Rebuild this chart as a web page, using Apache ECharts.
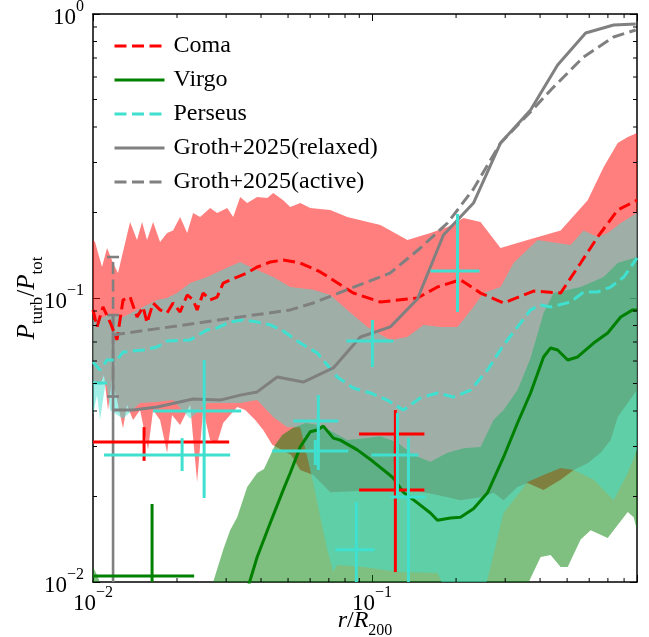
<!DOCTYPE html>
<html><head><meta charset="utf-8">
<script src="https://cdn.jsdelivr.net/npm/echarts@6/dist/echarts.min.js"></script>
<style>html,body{margin:0;padding:0;background:#fff}#c{width:649px;height:637px}</style>
</head><body><div id="c"></div><script>
// ---------------- data (x = r/R200, y = Pturb/Ptot) ----------------
const comaMedian = [[0.0100,0.0908],[0.01034,0.0791],[0.01086,0.0930],[0.01151,0.0823],[0.01219,0.0712],[0.01281,0.0984],[0.01358,0.1008],[0.01438,0.0857],[0.01512,0.0930],[0.01562,0.0817],[0.01642,0.0960],[0.01739,0.0908],[0.01843,0.0886],[0.01936,0.0960],[0.02052,0.0893],[0.02175,0.1025],[0.02285,0.0984],[0.02361,0.0908],[0.02481,0.1041],[0.02629,0.0984],[0.02786,0.1008],[0.02928,0.1129],[0.03286,0.1185],[0.03569,0.1225],[0.03875,0.1286],[0.04316,0.1339],[0.04806,0.136],[0.05531,0.1328],[0.06525,0.1235],[0.08569,0.1041],[0.1071,0.0968],[0.1454,0.100],[0.1715,0.1093],[0.2074,0.116],[0.2447,0.1041],[0.2959,0.0960],[0.3791,0.1058],[0.4739,0.1041],[0.5590,0.1328],[0.6432,0.164],[0.7589,0.204],[0.89,0.221]];
const comaUpper = [[0.0100,0.160],[0.01017,0.1575],[0.01077,0.1286],[0.01123,0.150],[0.01180,0.1328],[0.01229,0.1225],[0.01358,0.1852],[0.01438,0.160],[0.01499,0.1852],[0.01562,0.160],[0.01642,0.1852],[0.01739,0.1575],[0.01843,0.1693],[0.01936,0.173],[0.02052,0.1929],[0.02175,0.1693],[0.02285,0.1992],[0.02420,0.1929],[0.02629,0.2075],[0.02786,0.1992],[0.03026,0.2075],[0.03180,0.1929],[0.03369,0.2268],[0.03569,0.2160],[0.03875,0.2268],[0.04210,0.2250],[0.04424,0.2343],[0.04806,0.221],[0.05090,0.2091],[0.05531,0.2160],[0.06005,0.2075],[0.07085,0.204],[0.08152,0.1929],[0.1071,0.1807],[0.1339,0.160],[0.1619,0.1693],[0.1863,0.1778],[0.2126,0.1912],[0.2447,0.1852],[0.2887,0.150],[0.3608,0.160],[0.4739,0.173],[0.5924,0.221],[0.6760,0.2893],[0.7589,0.3515],[0.8246,0.3690],[0.89,0.381]];
const comaLower = [[0.0100,0.0514],[0.01060,0.0494],[0.01095,0.0536],[0.01132,0.0403],[0.01170,0.0514],[0.01219,0.0437],[0.01281,0.0348],[0.01324,0.0420],[0.01392,0.0372],[0.01475,0.0403],[0.01575,0.0292],[0.01642,0.0403],[0.01739,0.0372],[0.01843,0.0285],[0.01920,0.0387],[0.02052,0.0357],[0.02229,0.0420],[0.02361,0.0225],[0.02481,0.0403],[0.02629,0.0316],[0.02786,0.0309],[0.02928,0.0363],[0.03101,0.0387],[0.03286,0.0413],[0.03510,0.0403],[0.03813,0.0372],[0.04074,0.0343],[0.04388,0.0304],[0.05131,0.0280],[0.05531,0.0248],[0.06156,0.0238],[0.07085,0.0207],[0.1071,0.0211],[0.1407,0.0211],[0.1863,0.0199],[0.2074,0.0194],[0.2447,0.0199],[0.2724,0.0206],[0.2959,0.0194],[0.3321,0.0216],[0.3608,0.0223],[0.4117,0.0211],[0.4739,0.0229],[0.5277,0.0248],[0.5924,0.0262],[0.6596,0.0285],[0.7161,0.0316],[0.7589,0.0381],[0.8246,0.0427],[0.89,0.0474]];

const virgoMedian = [[0.03569,0.00937],[0.03875,0.01225],[0.04316,0.01614],[0.04806,0.0211],[0.05090,0.0242],[0.05531,0.0299],[0.06005,0.0338],[0.06365,0.0343],[0.06688,0.0354],[0.07264,0.0321],[0.07694,0.0316],[0.08858,0.0292],[0.1011,0.0265],[0.1134,0.0242],[0.1192,0.0232],[0.1295,0.0207],[0.1454,0.0190],[0.1619,0.0175],[0.1715,0.0165],[0.1910,0.0168],[0.2074,0.0169],[0.2309,0.0181],[0.2592,0.0206],[0.2959,0.0275],[0.3321,0.0363],[0.3698,0.0463],[0.4117,0.0620],[0.4363,0.0667],[0.4623,0.0656],[0.5024,0.0605],[0.5453,0.0620],[0.6223,0.0694],[0.6988,0.0753],[0.7780,0.0857],[0.8590,0.0908],[0.89,0.0908]];
const virgoUpper = [[0.0100,0.01129],[0.01034,0.01058],[0.01104,0.0090],[0.02523,0.0090],[0.02695,0.0100],[0.02928,0.0130],[0.03101,0.0152],[0.03286,0.0169],[0.03569,0.0216],[0.03875,0.0242],[0.04100,0.0250],[0.04498,0.0304],[0.04765,0.0329],[0.05176,0.0348],[0.05766,0.0363],[0.06418,0.0357],[0.07205,0.0338],[0.08152,0.0316],[0.09307,0.0320],[0.1071,0.0326],[0.1233,0.0310],[0.1407,0.0280],[0.1619,0.0265],[0.1863,0.0285],[0.2126,0.0296],[0.2447,0.0299],[0.2724,0.0372],[0.2959,0.0403],[0.3321,0.0474],[0.3698,0.0615],[0.4117,0.0886],[0.4472,0.1041],[0.5590,0.1093],[0.6760,0.1185],[0.7589,0.1328],[0.89,0.1394]];
const virgoLower = [[0.0100,0.005],[0.35,0.005],[0.3608,0.0098],[0.4018,0.01225],[0.4363,0.01245],[0.4739,0.01129],[0.5024,0.01129],[0.5590,0.0141],[0.6073,0.0152],[0.6988,0.01429],[0.7340,0.0152],[0.8246,0.01764],[0.8661,0.0169],[0.89,0.0152]];

const perseusMedian = [[0.0100,0.0595],[0.01060,0.0558],[0.01123,0.0605],[0.01219,0.0605],[0.01281,0.0645],[0.01512,0.0656],[0.01697,0.0672],[0.01843,0.0706],[0.02229,0.0712],[0.02565,0.0772],[0.02786,0.0785],[0.03101,0.0823],[0.03453,0.0837],[0.03875,0.0823],[0.04316,0.0804],[0.04806,0.0765],[0.05531,0.0694],[0.06365,0.0640],[0.07505,0.0527],[0.08569,0.0482],[0.09860,0.0463],[0.1134,0.0437],[0.1295,0.0403],[0.1490,0.0445],[0.1715,0.0463],[0.1957,0.0448],[0.2253,0.0474],[0.2592,0.0558],[0.2959,0.0683],[0.3321,0.0791],[0.3698,0.0908],[0.4018,0.0945],[0.4363,0.0930],[0.5146,0.0968],[0.5730,0.1050],[0.6432,0.1050],[0.7161,0.1093],[0.7977,0.1185],[0.89,0.1383]];
const perseusUpper = [[0.0100,0.0837],[0.01151,0.0871],[0.01281,0.0857],[0.01392,0.0893],[0.01697,0.0984],[0.01843,0.1],[0.02001,0.1041],[0.02229,0.1129],[0.02565,0.1185],[0.02928,0.126],[0.03180,0.1307],[0.03369,0.1339],[0.03659,0.1286],[0.04424,0.1185],[0.05090,0.1093],[0.06156,0.107],[0.07085,0.1025],[0.08152,0.0908],[0.09618,0.0791],[0.1163,0.0712],[0.1339,0.0729],[0.1528,0.0804],[0.1759,0.0791],[0.2024,0.0791],[0.2309,0.0930],[0.2507,0.1041],[0.2887,0.1093],[0.3214,0.1328],[0.3918,0.160],[0.5146,0.1537],[0.5730,0.173],[0.6432,0.164],[0.6988,0.1693],[0.7780,0.1837],[0.89,0.1992]];
const perseusLower = [[0.0100,0.0387],[0.01034,0.0455],[0.01060,0.0372],[0.01086,0.0437],[0.01113,0.0514],[0.01151,0.0403],[0.01281,0.0376],[0.01475,0.0427],[0.01697,0.0430],[0.01936,0.0437],[0.02229,0.0376],[0.02565,0.0427],[0.02928,0.0427],[0.03369,0.0427],[0.03875,0.0437],[0.04424,0.0381],[0.04967,0.0351],[0.05531,0.0351],[0.05859,0.0275],[0.06156,0.0223],[0.06525,0.0169],[0.06911,0.0130],[0.07264,0.01084],[0.07505,0.01148],[0.09307,0.01129],[0.1233,0.01084],[0.1715,0.01076],[0.1863,0.0090],[0.2447,0.0090],[0.2592,0.0102],[0.2959,0.0175],[0.3608,0.0225],[0.4117,0.0238],[0.4739,0.0252],[0.5277,0.0248],[0.6223,0.0229],[0.7340,0.0194],[0.8246,0.0242],[0.89,0.0292]];

const grothRelaxed = [[0.0118,0.0403],[0.01392,0.0403],[0.01697,0.0413],[0.02285,0.0441],[0.02856,0.0437],[0.03369,0.0455],[0.03875,0.0467],[0.04573,0.0527],[0.05670,0.0506],[0.07264,0.0567],[0.09079,0.0729],[0.1163,0.0791],[0.1454,0.0992],[0.1802,0.1667],[0.2309,0.2160],[0.2887,0.3515],[0.3698,0.459],[0.4623,0.661],[0.5826,0.857],[0.7340,0.915],[0.8806,0.922]];
const grothActive = [[0.0118,0.0741],[0.05090,0.0908],[0.06156,0.0960],[0.08152,0.107],[0.1163,0.1225],[0.1490,0.150],[0.1863,0.1837],[0.2309,0.242],[0.2887,0.3515],[0.3608,0.441],[0.4472,0.553],[0.5730,0.706],[0.7340,0.830],[0.8806,0.878]];
// [x, y, yLow, yHigh]
const grothRelaxedErr = [[0.0118,0.0403,0.005,0.0871]];
const grothActiveErr = [[0.0118,0.0741,0.045,0.1394]];

// observations: [x, y, xLow, xHigh, yLow, yHigh]
const comaObs = [[0.01524,0.0311,0.0090,0.03076,0.0267,0.0351],[0.1212,0.0332,0.0898,0.1540,0.026,0.0403],[0.1212,0.0211,0.0898,0.1540,0.01084,0.030]];
const virgoObs = [[0.01628,0.01050,0.0090,0.02304,0.008,0.01882]];
const perseusObs = [[0.0090,0.0502,0.0080,0.01123,0.0450,0.0560],[0.02086,0.0280,0.01095,0.03101,0.0246,0.0321],[0.02502,0.0400,0.01642,0.03396,0.01976,0.0605],[0.06418,0.0369,0.05219,0.07570,0.0248,0.0455],[0.06260,0.0289,0.04388,0.08222,0.0258,0.0316],[0.08784,0.0130,0.07384,0.1019,0.008,0.01913],[0.1233,0.0280,0.0994,0.1466,0.020,0.0394],[0.1350,0.01992,0.1163,0.1553,0.008,0.0321],[0.1003,0.0706,0.08087,0.1192,0.0571,0.0837],[0.2024,0.1245,0.1619,0.2427,0.0893,0.1976]];

const xMinorTicks = [0.02,0.03,0.04,0.05,0.06,0.07,0.08,0.09,0.2,0.3,0.4,0.5,0.6,0.7,0.8];
const yMinorTicks = [0.02,0.03,0.04,0.05,0.06,0.07,0.08,0.09,0.2,0.3,0.4,0.5,0.6,0.7,0.8,0.9];
const legendNames = ['Coma','Virgo','Perseus','Groth+2025(relaxed)','Groth+2025(active)'];

// ---------------- styling ----------------
const FONT = 'Liberation Serif';
const RED = '#ff0000', GREEN = '#008000', TURQ = '#40e0d0', GRAY = '#808080';
const DASH = [12, 5.5];

function powLabel(v) {
  const e = Math.round(Math.log10(v));
  if (Math.abs(v / Math.pow(10, e) - 1) > 1e-6) return '';
  return '{b|10}{s|' + (e < 0 ? '\u2212' + (-e) : String(e)) + '}';
}
const richTick = {
  b: {fontFamily: FONT, fontSize: 23, lineHeight: 30, verticalAlign: 'bottom', color: '#000'},
  s: {fontFamily: FONT, fontSize: 16, lineHeight: 16, verticalAlign: 'top', color: '#000'}
};
const richNameX = {
  i: {fontFamily: FONT, fontSize: 24, fontStyle: 'italic', lineHeight: 30, verticalAlign: 'top', color: '#000'},
  n: {fontFamily: FONT, fontSize: 24, lineHeight: 30, verticalAlign: 'top', color: '#000'},
  s: {fontFamily: FONT, fontSize: 16, lineHeight: 16, verticalAlign: 'bottom', color: '#000'}
};
const richNameY = {
  i: {fontFamily: FONT, fontSize: 25, fontStyle: 'italic', lineHeight: 31, verticalAlign: 'top', color: '#000'},
  n: {fontFamily: FONT, fontSize: 25, lineHeight: 31, verticalAlign: 'top', color: '#000'},
  s: {fontFamily: FONT, fontSize: 17, lineHeight: 17, verticalAlign: 'bottom', color: '#000'}
};

function axisBase(extra) {
  return Object.assign({
    type: 'log', logBase: 10,
    nameMoveOverlap: false,
    axisLine: {show: true, onZero: false, lineStyle: {color: '#000', width: 1.5}},
    axisTick: {show: true, inside: true, length: 7, lineStyle: {color: '#000', width: 1}},
    splitLine: {show: false},
    minorTick: {show: false}
  }, extra);
}

function band(upper, lower, fill, z) {
  const poly = upper.concat(lower.slice().reverse());
  return {
    type: 'custom', coordinateSystem: 'cartesian2d', clip: true, silent: true, z: z,
    data: poly, encode: {x: 0, y: 1},
    renderItem: function (params, api) {
      if (params.dataIndex !== 0) return null;
      const pts = poly.map(function (p) { return api.coord(p); });
      return {type: 'polygon', shape: {points: pts}, style: {fill: fill}};
    }
  };
}

function crosses(rows, color) {
  return {
    type: 'custom', coordinateSystem: 'cartesian2d', clip: true, silent: true, z: 6,
    data: rows, encode: {x: 0, y: 1},
    renderItem: function (params, api) {
      const y = api.value(1), x = api.value(0);
      const l = api.coord([api.value(2), y]), r = api.coord([api.value(3), y]);
      const b = api.coord([x, api.value(4)]), t = api.coord([x, api.value(5)]);
      return {type: 'group', children: [
        {type: 'line', shape: {x1: l[0], y1: l[1], x2: r[0], y2: r[1]}, style: {stroke: color, lineWidth: 3}},
        {type: 'line', shape: {x1: b[0], y1: b[1], x2: t[0], y2: t[1]}, style: {stroke: color, lineWidth: 3}}
      ]};
    }
  };
}

function capBars(rows, color, dash) {
  return {
    type: 'custom', coordinateSystem: 'cartesian2d', clip: true, silent: true, z: 4,
    data: rows, encode: {x: 0, y: 1},
    renderItem: function (params, api) {
      const x = api.value(0);
      const b = api.coord([x, api.value(2)]), t = api.coord([x, api.value(3)]);
      const st = {stroke: color, lineWidth: 2.6, lineDash: dash || null};
      return {type: 'group', children: [
        {type: 'line', shape: {x1: b[0], y1: b[1], x2: t[0], y2: t[1]}, style: st},
        {type: 'line', shape: {x1: t[0] - 6, y1: t[1], x2: t[0] + 6, y2: t[1]}, style: {stroke: color, lineWidth: 2.6}},
        {type: 'line', shape: {x1: b[0] - 6, y1: b[1], x2: b[0] + 6, y2: b[1]}, style: {stroke: color, lineWidth: 2.6}}
      ]};
    }
  };
}

function lineSeries(name, data, color, dash, z) {
  return {
    name: name, type: 'line', data: data, showSymbol: false, symbol: 'none', z: z, silent: true,
    clip: true, smooth: false,
    lineStyle: {color: color, width: 3, type: dash ? DASH : 'solid', cap: 'butt'},
    itemStyle: {color: color}
  };
}

const minorTickSeries = {
  type: 'custom', coordinateSystem: 'cartesian2d', clip: false, silent: true, z: 10,
  data: [[0.1, 0.1]], encode: {x: 0, y: 1},
  renderItem: function (params, api) {
    const cs = params.coordSys;
    const kids = [];
    const st = {stroke: '#000', lineWidth: 1};
    xMinorTicks.forEach(function (v) {
      const px = api.coord([v, 0.1])[0];
      kids.push({type: 'line', shape: {x1: px, y1: cs.y + cs.height, x2: px, y2: cs.y + cs.height - 4}, style: st});
      kids.push({type: 'line', shape: {x1: px, y1: cs.y, x2: px, y2: cs.y + 4}, style: st});
    });
    yMinorTicks.forEach(function (v) {
      const py = api.coord([0.1, v])[1];
      kids.push({type: 'line', shape: {x1: cs.x, y1: py, x2: cs.x + 4, y2: py}, style: st});
      kids.push({type: 'line', shape: {x1: cs.x + cs.width, y1: py, x2: cs.x + cs.width - 4, y2: py}, style: st});
    });
    return {type: 'group', children: kids};
  }
};

const chart = echarts.init(document.getElementById('c'), null, {renderer: 'canvas'});
chart.setOption({
  animation: false,
  backgroundColor: '#fff',
  grid: {left: 93, top: 14, width: 544, height: 568, containLabel: false, outerBoundsMode: 'none'},
  legend: {
    data: legendNames, orient: 'vertical', left: 113, top: 34, padding: 0,
    itemWidth: 50, itemHeight: 14, itemGap: 10, selectedMode: false,
    itemStyle: {opacity: 0, color: 'rgba(0,0,0,0)', borderWidth: 0},
    lineStyle: {width: 3},
    textStyle: {fontFamily: FONT, fontSize: 24, color: '#000', padding: [0, 0, 0, 4]}
  },
  xAxis: [
    axisBase({min: 0.01, max: 0.89, position: 'bottom',
      axisLabel: {show: true, formatter: powLabel, rich: richTick, margin: 3},
      name: '{i|r}{n|/}{i|R}{s|200}', nameLocation: 'middle', nameGap: 27,
      nameTextStyle: {rich: richNameX}}),
    axisBase({min: 0.01, max: 0.89, position: 'top', axisLabel: {show: false}})
  ],
  yAxis: [
    axisBase({min: 0.01, max: 1, position: 'left',
      axisLabel: {show: true, formatter: powLabel, rich: richTick, margin: 9},
      name: '{i|P}{s|turb}{n|/}{i|P}{s|tot}', nameLocation: 'middle', nameGap: 47, nameRotate: 90,
      nameTextStyle: {rich: richNameY}}),
    axisBase({min: 0.01, max: 1, position: 'right', axisLabel: {show: false}})
  ],
  series: [
    band(comaUpper, comaLower, 'rgba(255,0,0,0.5)', 1),
    band(virgoUpper, virgoLower, 'rgba(0,128,0,0.5)', 2),
    band(perseusUpper, perseusLower, 'rgba(64,224,208,0.5)', 3),
    capBars(grothActiveErr, GRAY, DASH),
    capBars(grothRelaxedErr, GRAY, null),
    lineSeries('Coma', comaMedian, RED, true, 5),
    lineSeries('Virgo', virgoMedian, GREEN, false, 5),
    lineSeries('Perseus', perseusMedian, TURQ, true, 5),
    lineSeries('Groth+2025(relaxed)', grothRelaxed, GRAY, false, 5),
    lineSeries('Groth+2025(active)', grothActive, GRAY, true, 5),
    crosses(comaObs, RED),
    crosses(virgoObs, GREEN),
    crosses(perseusObs, TURQ),
    minorTickSeries
  ]
});
</script></body></html>
